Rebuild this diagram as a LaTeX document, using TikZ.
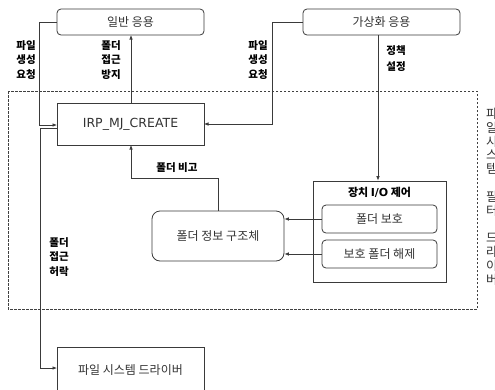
\documentclass[tikz,border=0pt]{standalone}
\usepackage{fontspec}
\setmainfont{Noto Sans CJK KR}
\newfontfamily\latinf{DejaVu Sans}
\usetikzlibrary{arrows.meta}
\definecolor{ln}{HTML}{3A3A3A}
\definecolor{tx}{HTML}{333333}
\tikzset{
  boxr/.style={draw=ln, line width=0.8pt, rounded corners=4pt, inner sep=0pt, text=tx, font=\fontsize{12}{14}\selectfont},
  boxs/.style={draw=ln, line width=0.8pt, inner sep=0pt, text=tx, font=\fontsize{12}{14}\selectfont},
  lbl/.style={font=\bfseries\fontsize{10.5}{14.5}\selectfont, align=center, inner sep=0pt, text=black},
  conn/.style={draw=ln, line width=0.7pt, -{Latex[length=4.5pt,width=3.6pt]}}
}
\begin{document}
\begin{tikzpicture}[x=1pt,y=-1pt]
\useasboundingbox (0,0) rectangle (495,389);
% dashed area
\draw[black!75, line width=0.6pt, dash pattern=on 2.5pt off 1.5pt] (8,91) rectangle (477,309);
% nodes
\node[boxr, minimum width=147pt, minimum height=26pt] (gen) at (130.5,22) {일반 응용};
\node[boxr, minimum width=157pt, minimum height=26pt] (virt) at (381.5,22) {가상화 응용};
\node[boxs, minimum width=147pt, minimum height=42pt] (irp) at (130.5,124) {\latinf\fontsize{12.5}{14}\selectfont IRP\_MJ\_CREATE};
\node[boxs, minimum width=147pt, minimum height=46pt] (fsd) at (130.5,370) {파일 시스템 드라이버};
\node[boxs, minimum width=133pt, minimum height=101pt] (dev) at (379.5,231.5) {};
\node[lbl, font=\bfseries\fontsize{11}{13}\selectfont] (devt) at (379.5,192) {장치 {\latinf\bfseries I/O} 제어};
\node[boxr, minimum width=115pt, minimum height=28pt] (prot) at (379.5,219) {폴더 보호};
\node[boxr, minimum width=115pt, minimum height=28pt] (unprot) at (379.5,254) {보호 폴더 해제};
\node[boxr, rounded corners=8pt, minimum width=132pt, minimum height=50pt] (info) at (218,236) {폴더 정보 구조체};
% coordinates
\coordinate (g1) at (39,22);
\coordinate (g2) at (39,125);
\coordinate (irpw1) at (57,125);
\coordinate (v1) at (272,22);
\coordinate (v2) at (272,124);
\coordinate (irpe) at (204,124);
\coordinate (vs) at (378,35);
\coordinate (i1) at (218,178);
\coordinate (i2) at (131,178);
\coordinate (irps) at (131,145);
\coordinate (irpn) at (131,103);
\coordinate (gens) at (131,35);
\coordinate (irpw2) at (57,128);
\coordinate (f1) at (40,128);
\coordinate (f2) at (40,368);
\coordinate (fsdw) at (57,368);
% connectors
\draw[conn] (gen.west) -- (g1) -- (g2) -- (irpw1);
\draw[conn] (irpn) -- (gens);
\draw[conn] (virt.west) -- (v1) -- (v2) -- (irpe);
\draw[conn] (vs) -- (vs |- dev.north);
\draw[conn] (prot.west) -- (prot.west -| info.east);
\draw[conn] (unprot.west) -- (unprot.west -| info.east);
\draw[conn] (info.north) -- (i1) -- (i2) -- (irps);
\draw[conn] (irpw2) -- (f1) -- (f2) -- (fsdw);
% labels
\node[lbl] (l1) at (26,60) {파일\\생성\\요청};
\node[lbl] (l2) at (111,60) {폴더\\접근\\방지};
\node[lbl] (l3) at (258,60) {파일\\생성\\요청};
\node[lbl, font=\bfseries\fontsize{10.5}{16}\selectfont] (l4) at (396,59) {정책\\설정};
\node[lbl] (l5) at (59,257) {폴더\\접근\\허락};
\node[lbl] (l6) at (177,168) {폴더 비고};
\node[anchor=north west, align=left, inner sep=0pt, text=tx, font=\fontsize{12.5}{13.8}\selectfont] (side) at (486,108) {파\\일\\시\\스\\템\\~\\필\\터\\~\\드\\라\\이\\버};
\end{tikzpicture}
\end{document}
